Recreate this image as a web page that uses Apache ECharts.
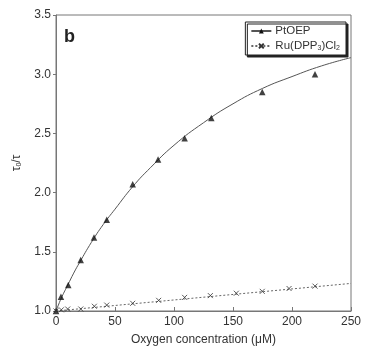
<!DOCTYPE html>
<html>
<head>
<meta charset="utf-8">
<script src="https://cdn.jsdelivr.net/npm/echarts@6/dist/echarts.min.js"></script>
<style>
  html, body { margin: 0; padding: 0; background: #fff; }
  #chart { width: 366px; height: 351px; }
</style>
</head>
<body>
<div id="chart"></div>
<script>
// PtOEP measured points [O2 uM, tau0/tau]
const ptoepPoints = [[0, 1.0], [4.2, 1.12], [10.4, 1.22], [20.9, 1.43], [32.2, 1.62], [43, 1.77], [65, 2.07],
  [86.5, 2.28], [109, 2.46], [131.6, 2.63], [174.8, 2.85], [219.5, 3.0]]
// PtOEP fitted curve
const ptoepFit = [[0, 1.0], [2, 1.05], [5, 1.12], [10, 1.22], [15, 1.32], [20, 1.41], [30, 1.58], [40, 1.73],
  [50, 1.86], [65, 2.05], [80, 2.21], [100, 2.4], [125, 2.59], [150, 2.75], [175, 2.88], [200, 2.98],
  [225, 3.07], [250, 3.14]]
// Ru(DPP3)Cl2 measured points
const ruPoints = [[0, 1.0], [4.5, 1.01], [9.9, 1.017], [21, 1.017], [32.5, 1.04], [43, 1.05], [65, 1.065],
  [87, 1.09], [109, 1.115], [130.8, 1.13], [152.8, 1.15], [174.8, 1.166], [197.5, 1.19], [219.5, 1.21]]
// Ru linear fit
const ruFit = [[0, 1.0], [250, 1.233]]

const chart = echarts.init(document.getElementById('chart'), null, { renderer: 'canvas' })

const font = 'Liberation Sans, Arial, sans-serif'
const ink = '#333'
const crossPath = 'path://M0,0L10,10M10,0L0,10'

const option = {
  animation: false,
  textStyle: { fontFamily: font, color: ink },
  grid: {
    left: 56, right: 15, top: 15, bottom: 39,
    show: true, borderColor: '#777', borderWidth: 1,
  },
  legend: {
    right: 20, top: 22,
    orient: 'vertical',
    itemWidth: 20, itemHeight: 6, itemGap: 3,
    padding: [3, 6, 3, 5],
    backgroundColor: '#fff',
    borderColor: '#222', borderWidth: 1,
    shadowColor: '#222', shadowOffsetX: 2, shadowOffsetY: 2, shadowBlur: 0,
    data: ['PtOEP', 'Ru(DPP3)Cl2'],
    formatter: (n) => (n === 'Ru(DPP3)Cl2' ? 'Ru(DPP{s|3})Cl{s|2}' : n),
    textStyle: {
      fontFamily: font, fontSize: 11.5, color: ink, padding: [0, 0, 0, -1],
      rich: { s: { fontSize: 7, fontFamily: font, color: ink, padding: [5, 0, 0, 0] } },
    },
  },
  xAxis: {
    type: 'value', min: 0, max: 250, interval: 50,
    name: 'Oxygen concentration (\u03bcM)',
    nameLocation: 'middle', nameGap: 23,
    nameTextStyle: { fontSize: 12, color: ink },
    axisLine: { lineStyle: { color: '#777' } },
    axisTick: { inside: true, length: 4, lineStyle: { color: '#777' } },
    axisLabel: { fontSize: 12, color: ink, margin: 5 },
    splitLine: { show: false },
  },
  yAxis: {
    type: 'value', min: 1.0, max: 3.5, interval: 0.5,
    name: '\u03c4{s|0}/\u03c4',
    nameLocation: 'middle', nameGap: 33, nameRotate: 90,
    nameTextStyle: {
      fontSize: 12, color: ink,
      rich: { s: { fontSize: 7, color: ink, padding: [5, 0, 0, 0] } },
    },
    axisLine: { lineStyle: { color: '#777' } },
    axisTick: { length: 3, lineStyle: { color: '#777' } },
    axisLabel: { fontSize: 12, color: ink, margin: 5, formatter: (v) => v.toFixed(1) },
    splitLine: { show: false },
  },
  graphic: [
    { type: 'text', left: 64, top: 28, style: { text: 'b', font: 'bold 18px ' + font, fill: '#222' } },
  ],
  series: [
    {
      name: 'PtOEP', type: 'line', data: ptoepFit, smooth: true,
      showSymbol: false, symbol: 'triangle', symbolSize: 6,
      lineStyle: { color: '#555', width: 1 }, itemStyle: { color: '#111' },
      z: 2,
    },
    {
      name: 'PtOEP-pts', type: 'scatter', data: ptoepPoints,
      symbol: 'triangle', symbolSize: 6.5, itemStyle: { color: '#111' }, z: 3,
    },
    {
      name: 'Ru(DPP3)Cl2', type: 'line', data: ruFit,
      showSymbol: false, symbol: crossPath, symbolSize: 5,
      lineStyle: { color: '#666', width: 1, type: [2, 2] },
      itemStyle: { color: 'transparent', borderColor: '#333', borderWidth: 1 },
      z: 2,
    },
    {
      name: 'Ru-pts', type: 'scatter', data: ruPoints,
      symbol: crossPath, symbolSize: 5,
      itemStyle: { color: 'transparent', borderColor: '#333', borderWidth: 1 }, z: 3,
    },
  ],
}

chart.setOption(option)
</script>
</body>
</html>
